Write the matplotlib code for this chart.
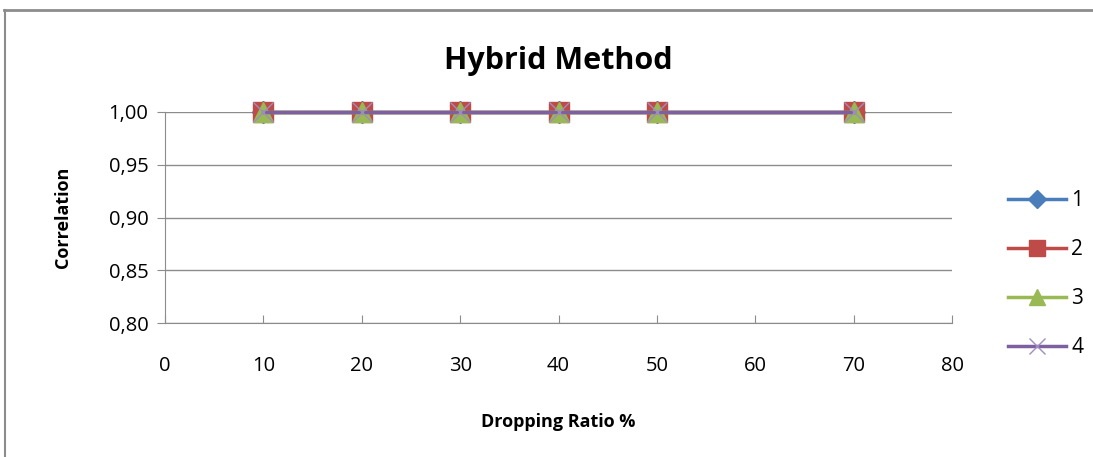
import matplotlib
matplotlib.use('Agg')
from matplotlib import pyplot as plt
from matplotlib.lines import Line2D
from matplotlib.ticker import FuncFormatter

plt.rcParams['font.family'] = ['Open Sans', 'DejaVu Sans']

ratio = [10, 20, 30, 40, 50, 70]
serie1 = [1.0, 1.0, 1.0, 1.0, 1.0, 1.0]
serie2 = [1.0, 1.0, 1.0, 1.0, 1.0, 1.0]
serie3 = [1.0, 1.0, 1.0, 1.0, 1.0, 1.0]
serie4 = [1.0, 1.0, 1.0, 1.0, 1.0, 1.0]
nombres = ['1', '2', '3', '4']

fig = plt.figure(figsize=(10.93, 4.57), dpi=100)
ax = fig.add_axes([0.151, 0.293, 0.72, 0.462])

style = {'linewidth': 2.5, 'clip_on': False}
ax.plot(ratio, serie1, color='#4A7EBB', marker='D', markersize=11, label=nombres[0], **style)
ax.plot(ratio, serie2, color='#BE4B48', marker='s', markersize=14, label=nombres[1], **style)
ax.plot(ratio, serie3, color='#98B954', marker='^', markersize=14, label=nombres[2], **style)
ax.plot(ratio, serie4, color='#7D60A0', marker='x', markeredgecolor='#A08CC0',
        markersize=14, label=nombres[3], **style)

ax.set_xlim(0, 80)
ax.set_ylim(0.80, 1.00)
ax.set_xticks(range(0, 81, 10))
ax.set_yticks([0.80, 0.85, 0.90, 0.95, 1.00])
ax.yaxis.set_major_formatter(FuncFormatter(lambda v, p: f'{v:.2f}'.replace('.', ',')))
ax.grid(axis='y', color='#8c8c8c', linewidth=1)
ax.set_axisbelow(True)

for s in ['top', 'right']:
    ax.spines[s].set_visible(False)
for s in ['left', 'bottom']:
    ax.spines[s].set_color('#8c8c8c')
ax.tick_params(axis='x', direction='in', length=6, color='#8c8c8c', labelsize=14.5, pad=24)
ax.tick_params(axis='y', direction='out', length=6, color='#8c8c8c', labelsize=14.5, pad=6)

ax.set_title('Hybrid Method', fontsize=22, fontweight='bold', pad=31)
ax.set_xlabel('Dropping Ratio %', fontsize=13, fontweight='bold', labelpad=26)
ax.set_ylabel('Correlation', fontsize=13, fontweight='bold', labelpad=26)

fig.legend(loc='center left', bbox_to_anchor=(0.905, 0.40), frameon=False,
           fontsize=15, handlelength=2.8, labelspacing=1.35, handletextpad=0.25,
           markerscale=0.8)

# marco de la imagen original
fig.add_artist(Line2D([0.004, 1], [0.978, 0.978], color='#8c8c8c', linewidth=2,
                      transform=fig.transFigure))
fig.add_artist(Line2D([0.005, 0.005], [0, 0.978], color='#8c8c8c', linewidth=1.5,
                      transform=fig.transFigure))

fig.savefig('out.png', dpi=100)
